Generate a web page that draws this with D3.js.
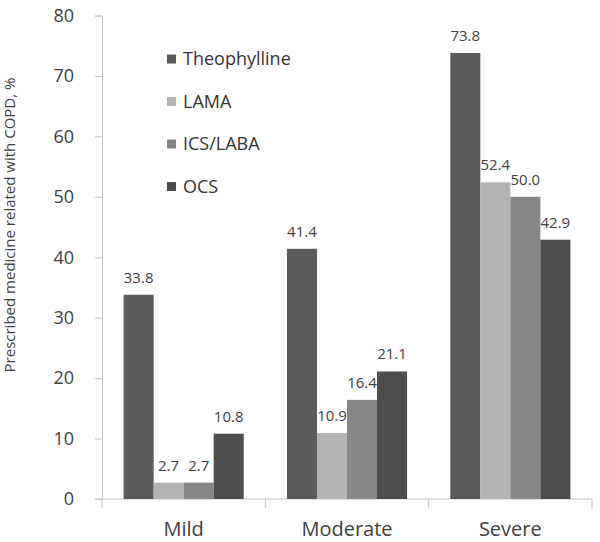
<!DOCTYPE html>
<html>
<head>
<meta charset="utf-8">
<script src="https://cdn.jsdelivr.net/npm/d3@7"></script>
<style>
  html, body { margin: 0; padding: 0; background: #fff; }
  svg { display: block; font-family: "Open Sans", "Noto Sans", sans-serif; }
</style>
</head>
<body>
<svg id="chart" width="600" height="542"></svg>
<script>
const categories = ["Mild", "Moderate", "Severe"];
const seriesNames = ["Theophylline", "LAMA", "ICS/LABA", "OCS"];
const theophylline = [33.8, 41.4, 73.8];
const lama = [2.7, 10.9, 52.4];
const icsLaba = [2.7, 16.4, 50.0];
const ocs = [10.8, 21.1, 42.9];
const yTicks = [0, 10, 20, 30, 40, 50, 60, 70, 80];
const colors = ["#5b5b5b", "#b3b3b3", "#878787", "#4e4e4e"];

const seriesValues = [theophylline, lama, icsLaba, ocs];
const svg = d3.select("#chart");
const m = { left: 102, right: 8, top: 15.5, bottom: 43 };
const W = 600, H = 542;
const x0 = d3.scaleBand().domain(categories).range([m.left, W - m.right]).paddingInner(0).paddingOuter(0);
const x1 = d3.scaleBand().domain(seriesNames).range([0, x0.bandwidth()]).paddingInner(0).paddingOuter(0.72);
const y = d3.scaleLinear().domain([0, 80]).range([H - m.bottom, m.top]);

const axisColor = "#c4c4c4";
const textColor = "#404040";

// y axis
const yAxis = svg.append("g").attr("transform", `translate(${m.left},0)`)
  .call(d3.axisLeft(y).tickValues(yTicks).tickSize(7).tickPadding(21).tickFormat(d3.format("d")));
yAxis.select(".domain").attr("stroke", axisColor);
yAxis.selectAll(".tick line").attr("stroke", axisColor);
yAxis.selectAll(".tick text").attr("fill", textColor).style("font-size", "18px")
  .style("font-family", '"Open Sans", "Noto Sans", sans-serif');

// x axis
const xAxisG = svg.append("g").attr("transform", `translate(0,${y(0)})`);
xAxisG.append("line").attr("x1", m.left - 7).attr("x2", W - m.right).attr("y1", 0).attr("y2", 0).attr("stroke", axisColor);
const boundaries = [x0(categories[0])].concat(categories.map(c => x0(c) + x0.bandwidth()));
xAxisG.selectAll("line.ct").data(boundaries).join("line").attr("class", "ct")
  .attr("x1", d => d).attr("x2", d => d).attr("y1", 0).attr("y2", 9).attr("stroke", axisColor);
xAxisG.selectAll("text").data(categories).join("text")
  .attr("x", d => x0(d) + x0.bandwidth() / 2).attr("y", 37)
  .attr("text-anchor", "middle").attr("fill", textColor).style("font-size", "20px").text(d => d);

// bars
const groups = svg.append("g").selectAll("g").data(categories).join("g")
  .attr("transform", d => `translate(${x0(d)},0)`);
groups.each(function(cat, ci) {
  const g = d3.select(this);
  const data = seriesNames.map((s, si) => ({ s, si, v: seriesValues[si][ci] }));
  g.selectAll("rect").data(data).join("rect")
    .attr("x", d => x1(d.s)).attr("width", x1.bandwidth())
    .attr("y", d => y(d.v)).attr("height", d => y(0) - y(d.v))
    .attr("fill", d => colors[d.si]);
  g.selectAll("text").data(data).join("text")
    .attr("x", d => x1(d.s) + x1.bandwidth() / 2).attr("y", d => y(d.v) - 12)
    .attr("text-anchor", "middle").attr("fill", textColor).style("font-size", "15px")
    .text(d => d3.format(".1f")(d.v));
});

// legend
const legend = svg.append("g");
const legY = [59, 101.5, 144, 186.5];
seriesNames.forEach((s, i) => {
  legend.append("rect").attr("x", 167).attr("y", legY[i] - 4.5).attr("width", 9).attr("height", 9).attr("fill", colors[i]);
  legend.append("text").attr("x", 183).attr("y", legY[i]).attr("dy", "0.35em")
    .attr("fill", "#333").style("font-size", "18px").text(s);
});

// y title
svg.append("text").attr("transform", `translate(15,225) rotate(-90)`)
  .attr("text-anchor", "middle").attr("fill", textColor).style("font-size", "15px")
  .text("Prescribed medicine related with COPD, %");
</script>
</body>
</html>
